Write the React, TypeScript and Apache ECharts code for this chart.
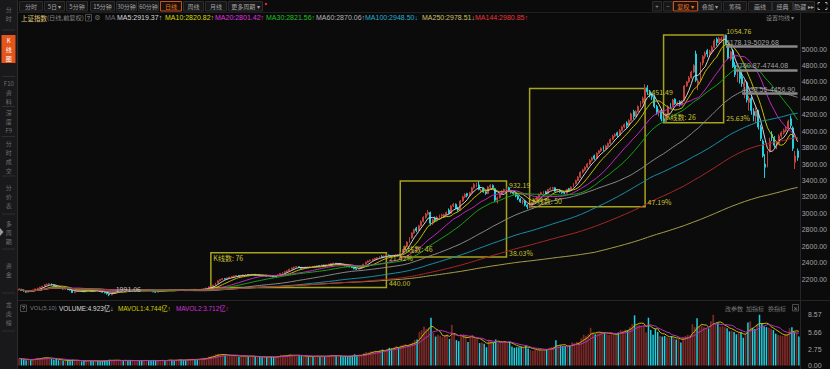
import React, { useEffect, useRef } from 'react';
import * as echarts from 'echarts';

// ---------- DATA ----------
// daily candles of 上证指数 [open, close, low, high]
const ohlc: number[][] = [
  [2068,2075,2060,2082],[2075,2060,2055,2080],[2060,2053,2046,2064],[2053,2040,2034,2056],[2040,2058,2036,2062],[2058,2047,2042,2061],[2047,2066,2045,2070],[2066,2080,2062,2084],[2080,2088,2074,2093],[2088,2100,2084,2106],
  [2100,2112,2096,2118],[2112,2130,2108,2136],[2130,2135,2124,2146],[2135,2142,2128,2150],[2142,2128,2122,2146],[2128,2118,2112,2132],[2118,2098,2092,2120],[2098,2086,2080,2102],[2086,2091,2080,2096],[2091,2078,2072,2094],
  [2078,2082,2072,2088],[2082,2070,2066,2086],[2070,2066,2060,2074],[2066,2035,2030,2068],[2035,2048,2030,2052],[2048,2053,2042,2058],[2053,2060,2048,2064],[2060,2052,2047,2063],[2052,2045,2040,2056],[2045,2058,2042,2061],
  [2058,2064,2053,2068],[2064,2055,2050,2066],[2055,2050,2045,2058],[2050,2062,2048,2065],[2062,2058,2053,2066],[2058,2047,2043,2060],[2047,2040,2034,2050],[2040,2032,2026,2044],[2032,2020,2012,2035],[2020,2008,1991,2024],
  [2008,2026,2002,2030],[2026,2040,2022,2044],[2040,2052,2036,2056],[2052,2058,2047,2062],[2058,2065,2053,2069],[2065,2060,2055,2068],[2060,2070,2056,2074],[2070,2067,2061,2075],[2067,2055,2050,2070],[2055,2062,2051,2066],
  [2062,2068,2058,2072],[2068,2072,2063,2076],[2072,2066,2061,2075],[2066,2060,2055,2069],[2060,2064,2056,2068],[2064,2070,2060,2074],[2070,2066,2061,2073],[2066,2058,2053,2069],[2058,2045,2040,2060],[2045,2040,2034,2049],
  [2040,2050,2036,2054],[2050,2056,2046,2060],[2056,2062,2052,2066],[2062,2058,2053,2065],[2058,2066,2055,2070],[2066,2070,2061,2074],[2070,2064,2060,2073],[2064,2060,2055,2067],[2060,2068,2057,2071],[2068,2072,2064,2076],
  [2072,2066,2061,2075],[2066,2062,2057,2069],[2062,2058,2053,2065],[2058,2064,2055,2068],[2064,2070,2060,2074],[2070,2075,2066,2079],[2075,2068,2064,2078],[2068,2062,2058,2071],[2062,2072,2059,2075],[2072,2078,2068,2082],
  [2078,2084,2074,2088],[2084,2090,2080,2094],[2090,2105,2087,2109],[2105,2110,2100,2116],[2110,2125,2106,2129],[2125,2150,2122,2154],[2150,2178,2146,2182],[2178,2195,2172,2200],[2195,2205,2188,2211],[2205,2200,2194,2212],
  [2200,2212,2196,2217],[2212,2222,2207,2228],[2222,2230,2216,2236],[2230,2238,2224,2244],[2238,2242,2232,2249],[2242,2235,2229,2247],[2235,2245,2231,2250],[2245,2250,2240,2256],[2250,2255,2244,2261],[2255,2248,2243,2259],
  [2248,2252,2242,2257],[2252,2258,2247,2263],[2258,2246,2241,2261],[2246,2250,2240,2255],[2250,2242,2236,2254],[2242,2238,2232,2246],[2238,2245,2234,2250],[2245,2232,2227,2248],[2232,2240,2228,2244],[2240,2236,2230,2244],
  [2236,2228,2222,2240],[2228,2240,2225,2244],[2240,2252,2237,2256],[2252,2268,2248,2272],[2268,2280,2263,2285],[2280,2290,2275,2295],[2290,2300,2284,2306],[2300,2320,2296,2325],[2320,2335,2315,2340],[2335,2345,2328,2350],
  [2345,2350,2338,2357],[2350,2342,2336,2355],[2342,2330,2324,2346],[2330,2338,2325,2343],[2338,2345,2332,2350],[2345,2340,2334,2349],[2340,2352,2336,2357],[2352,2348,2342,2356],[2348,2356,2344,2361],[2356,2362,2350,2367],
  [2362,2358,2352,2366],[2358,2370,2354,2375],[2370,2366,2360,2374],[2366,2374,2361,2379],[2374,2380,2368,2386],[2380,2388,2374,2394],[2388,2392,2382,2399],[2392,2385,2378,2396],[2385,2390,2379,2395],[2390,2378,2372,2393],
  [2378,2372,2366,2382],[2372,2360,2354,2375],[2360,2355,2348,2364],[2355,2348,2342,2359],[2348,2340,2333,2352],[2340,2325,2318,2344],[2325,2320,2310,2330],[2320,2330,2315,2335],[2330,2345,2326,2350],[2345,2380,2342,2385],
  [2380,2405,2376,2410],[2405,2420,2398,2427],[2420,2430,2412,2437],[2430,2440,2422,2447],[2440,2452,2433,2458],[2452,2460,2444,2467],[2460,2472,2452,2478],[2472,2468,2460,2490],[2468,2480,2462,2486],[2480,2490,2473,2496],
  [2490,2485,2476,2498],[2485,2478,2470,2492],[2478,2490,2472,2496],[2490,2495,2482,2503],[2495,2486,2478,2500],[2486,2520,2480,2526],[2520,2560,2514,2566],[2560,2600,2552,2608],[2600,2650,2594,2658],[2650,2700,2640,2710],
  [2700,2760,2692,2768],[2760,2800,2750,2812],[2820,2790,2770,2835],[2790,2850,2784,2860],[2850,2900,2840,2915],[2900,2950,2890,2965],[2950,2990,2935,3005],[2990,3010,2975,3040],[3010,2880,2850,3020],[2880,2920,2860,2935],
  [2940,2910,2890,2960],[2910,2950,2900,2965],[2950,2970,2935,2985],[2970,2980,2955,2995],[2960,2985,2950,2995],[2985,3010,2972,3022],[3040,3000,2990,3060],[3000,3090,2995,3100],[3090,3110,3075,3125],[3110,3060,3050,3120],
  [3060,3040,3020,3080],[3040,3150,3035,3160],[3150,3200,3140,3215],[3200,3230,3185,3245],[3240,3215,3195,3250],[3215,3250,3205,3262],[3250,3310,3240,3322],[3310,3350,3298,3368],[3330,3345,3318,3372],[3345,3290,3280,3392],
  [3270,3280,3245,3300],[3300,3262,3250,3315],[3262,3240,3225,3275],[3240,3320,3235,3330],[3320,3340,3305,3355],[3340,3310,3295,3352],[3300,3160,3140,3310],[3160,3190,3120,3205],[3190,3240,3180,3250],[3240,3270,3225,3282],
  [3270,3290,3255,3300],[3290,3310,3278,3322],[3310,3270,3258,3325],[3270,3255,3240,3285],[3255,3240,3226,3268],[3240,3210,3195,3252],[3210,3175,3160,3222],[3175,3140,3128,3186],[3140,3150,3110,3165],[3150,3100,3085,3160],
  [3100,3080,3049,3112],[3080,3095,3060,3105],[3095,3130,3088,3140],[3130,3160,3122,3170],[3160,3200,3150,3210],[3200,3230,3192,3240],[3230,3250,3220,3262],[3250,3255,3238,3268],[3262,3240,3230,3275],[3240,3290,3235,3298],
  [3290,3305,3280,3318],[3305,3310,3290,3322],[3310,3270,3262,3318],[3270,3275,3255,3285],[3280,3262,3250,3290],[3262,3250,3238,3270],[3255,3245,3232,3262],[3245,3290,3240,3298],[3300,3285,3270,3310],[3285,3320,3280,3328],
  [3320,3360,3315,3370],[3360,3400,3352,3410],[3400,3440,3392,3452],[3440,3500,3432,3510],[3500,3530,3488,3542],[3530,3560,3518,3572],[3560,3600,3548,3612],[3600,3645,3590,3660],[3645,3675,3630,3688],[3700,3670,3650,3715],
  [3670,3730,3662,3742],[3730,3760,3718,3772],[3760,3790,3748,3802],[3810,3780,3760,3825],[3780,3820,3770,3835],[3820,3850,3808,3862],[3850,3900,3840,3912],[3900,3940,3890,3955],[3940,3960,3925,3975],[3980,3950,3930,3995],
  [3950,4010,3945,4025],[4010,4050,4000,4065],[4050,4080,4035,4095],[4100,4070,4040,4120],[4070,4130,4060,4145],[4130,4210,4120,4225],[4240,4180,4150,4260],[4180,4240,4170,4255],[4240,4300,4230,4315],[4300,4350,4290,4365],
  [4350,4400,4335,4420],[4400,4520,4390,4572],[4530,4480,4440,4560],[4480,4440,4410,4500],[4450,4420,4380,4470],[4420,4300,4280,4440],[4300,4230,4200,4320],[4230,4250,4180,4270],[4250,4150,4120,4270],[4150,4112,4099,4180],
  [4112,4210,4105,4220],[4210,4300,4200,4315],[4330,4310,4280,4340],[4310,4380,4300,4395],[4390,4335,4320,4400],[4335,4345,4310,4360],[4360,4320,4300,4375],[4320,4370,4315,4380],[4370,4550,4365,4560],[4550,4600,4540,4612],
  [4600,4650,4590,4670],[4650,4720,4640,4735],[4720,4800,4710,4815],[4940,4620,4600,4980],[4580,4611,4500,4640],[4611,4830,4600,4840],[4830,4910,4800,4925],[4910,4950,4880,4970],[4980,4940,4900,5000],[4930,4970,4910,4990],
  [4970,5020,4950,5040],[5020,5100,5010,5120],[5120,5080,5040,5140],[5080,5130,5070,5150],[5105,5125,5080,5150],[5125,5166,5110,5178],[5170,5062,5048,5176],[5050,4887,4870,5060],[4880,4967,4860,4980],[4980,4785,4770,5000],
  [4800,4690,4660,4840],[4650,4720,4600,4760],[4720,4640,4580,4740],[4660,4580,4540,4700],[4540,4590,4400,4620],[4590,4380,4350,4610],[4350,4400,4250,4430],[4400,4250,4200,4420],[4240,4190,4120,4280],[4180,4250,4100,4290],
  [4250,4050,4020,4260],[4050,3910,3880,4080],[3880,3700,3680,3900],[3600,3560,3430,3720],[3600,3720,3560,3760],[3760,3880,3740,3920],[3960,3920,3880,4000],[3920,3830,3800,3940],[3830,3850,3780,3870],[3850,3940,3840,3960],
  [3940,3980,3920,4000],[3980,4010,3960,4030],[4010,4030,3990,4060],[4030,4120,4020,4140],[4150,4070,4040,4190],[4040,3790,3760,4060],[3620,3700,3540,3760],[3760,3680,3640,3790],
];

// volume, 亿
const volumes: number[] = [
  1.2,1.1,1.0,0.9,1.0,0.9,1.1,1.2,1.3,1.2,
  1.3,1.4,1.3,1.2,1.1,1.0,1.1,0.9,0.9,0.8,
  0.8,0.9,0.8,1.0,0.9,0.8,0.8,0.7,0.8,0.8,
  0.9,0.8,0.7,0.8,0.8,0.7,0.8,0.8,0.9,1.0,
  0.9,0.8,0.9,0.9,0.8,0.8,0.9,0.8,0.9,0.8,
  0.8,0.9,0.8,0.8,0.9,0.9,0.8,0.8,0.9,0.8,
  0.8,0.9,0.9,0.8,0.9,1.0,0.9,0.8,0.9,1.0,
  1.0,0.9,0.9,1.0,1.1,1.1,1.0,1.0,1.1,1.2,
  1.3,1.3,1.5,1.6,1.7,1.9,2.0,1.9,1.8,1.6,
  1.7,1.8,1.6,1.7,1.6,1.5,1.6,1.7,1.6,1.5,
  1.5,1.6,1.5,1.4,1.5,1.4,1.5,1.4,1.4,1.5,
  1.4,1.5,1.6,1.8,1.7,1.6,1.7,1.9,1.8,1.7,
  1.6,1.7,1.6,1.5,1.6,1.5,1.6,1.5,1.6,1.7,
  1.5,1.6,1.5,1.6,1.7,1.8,1.7,1.6,1.5,1.6,
  1.5,1.6,1.5,1.6,1.7,1.9,1.8,1.6,1.7,2.1,
  2.3,2.2,2.4,2.3,2.5,2.4,2.6,2.7,2.5,2.8,
  3.0,2.9,3.1,3.3,3.0,3.4,3.5,3.6,3.4,3.7,
  3.9,4.3,4.4,5.7,6.0,6.6,6.2,6.4,8.1,5.5,
  4.9,5.2,5.0,4.8,5.1,5.3,4.5,6.9,5.4,4.3,
  4.1,5.2,5.3,5.0,4.0,4.9,5.1,4.6,4.5,3.8,
  3.9,3.7,3.1,4.4,4.2,3.9,4.4,3.8,4.0,3.9,
  4.1,3.8,4.0,3.2,3.0,3.1,3.1,3.2,3.0,3.4,
  2.9,2.6,2.5,2.7,2.6,2.8,2.5,2.6,2.8,3.0,
  3.1,3.2,4.3,3.3,3.4,3.3,3.3,3.2,3.3,3.9,
  3.8,4.0,3.9,4.6,5.2,5.0,5.3,6.4,5.5,5.3,
  5.6,5.5,5.7,5.6,5.3,5.2,5.4,5.3,5.2,5.6,
  6.0,5.9,6.1,6.0,6.5,7.0,8.5,6.8,6.9,6.7,
  6.8,5.6,8.1,6.0,5.2,6.2,5.7,5.0,4.9,5.0,
  4.8,4.7,5.0,4.6,4.4,4.5,3.9,4.8,5.0,5.2,
  5.1,7.0,6.5,8.0,6.6,6.8,6.5,6.4,6.3,7.5,
  8.6,7.0,7.2,6.6,6.7,6.5,6.3,5.8,5.9,5.7,
  5.3,5.5,5.6,4.7,5.4,7.3,7.5,6.4,6.2,7.0,
  8.6,7.2,6.6,6.5,6.4,6.2,6.0,5.4,5.2,5.1,
  5.0,5.2,5.3,6.3,6.5,5.7,5.6,4.9,
];

const maPeriods = [5, 10, 20, 30, 60, 100, 250, 144];
const maColors = ['#d2d2d2', '#c2be00', '#c428c4', '#18a418', '#8a8a8a', '#1a90aa', '#aaa04a', '#aa2828'];
const volMaPeriods = [5, 10];
const volMaColors = ['#c2be00', '#bc30bc'];

const priceTicks = [2200, 2400, 2600, 2800, 3000, 3200, 3400, 3600, 3800, 4000, 4200, 4400, 4600, 4800, 5000];
const volTicks = [0, 2.75, 5.66, 8.57];

// boxes drawn with the line tool: [fromIndex, toIndex, low, high]
const boxRanges = [
  [83, 159, 2097, 2519],
  [165, 211, 2467, 3392],
  [221, 271, 3079, 4521],
  [279, 305, 4102, 5171],
];
const boxCounts = ['K线数: 76', 'K线数: 46', 'K线数: 50', 'K线数: 26'];
const boxTopLabels = ['21.42%', '932.19', '1451.49', '1054.76'];
const boxBottomLabels = ['440.00', '38.03%', '47.19%', '25.63%'];

// horizontal lines: [fromIndex, value, label]
const hLines: [number, number, string][] = [
  [306, 5029.68, '5178.19-5029.68'],
  [310, 4744.08, '4760.87-4744.08'],
  [313, 4456.90, '4533.55-4456.90'],
];
const lowPoint: [number, number, string] = [39, 1991, '1991.06'];

const maHeader: [string, string][] = [
  ['MA5:2919.37↑', '#d8d8d8'],
  ['MA10:2820.82↑', '#dcdc00'],
  ['MA20:2801.42↑', '#e030e0'],
  ['MA30:2821.56↑', '#20c020'],
  ['MA60:2870.06↑', '#b4b4b4'],
  ['MA100:2948.50↓', '#22b0d0'],
  ['MA250:2978.51↓', '#cfc266'],
  ['MA144:2980.85↑', '#ee3434'],
];
const maHeaderX = [117, 165, 215, 266, 316, 365, 422, 475];

const volHeader: [string, string][] = [
  ['VOLUME:4.923亿↓', '#d8d8d8'],
  ['MAVOL1:4.744亿↑', '#d4d000'],
  ['MAVOL2:3.712亿↑', '#d034d0'],
];
const volHeaderX = [59, 118, 176];

const leftButtons: [string, number, number][] = [
  ['分时', 19, 43], ['5日 ▾', 44, 65], ['5分钟', 66, 88], ['15分钟', 90, 115], ['30分钟', 116, 137],
  ['60分钟', 138, 159], ['日线', 160, 182], ['周线', 183, 204], ['月线', 205, 227], ['更多周期 ▾', 228, 263],
];
const rightButtons: [string, number, number][] = [
  ['+', 652, 662], ['−', 663, 673], ['复权 ▾', 673, 698], ['叠加 ▾', 698, 722], ['筹码', 723, 747],
  ['画线', 748, 772], ['经典', 772, 793], ['隐藏 ▸▸', 793, 815],
];
const sideTabs: [string, number][] = [
  ['分\n时', 14], ['K\n线\n图', 49], ['F10\n资\n料', 92], ['深\n度\nF9', 121], ['分\n时\n成\n交', 157],
  ['分\n价\n表', 196], ['多\n周\n期', 232], ['资\n金', 270], ['龙\n虎\n榜', 313],
];
const sideSeps = [30, 76.5, 106.5, 136.5, 176, 214, 249, 293, 331];

// ---------- HELPERS ----------
const LAT = "'Liberation Sans', 'DejaVu Sans', 'Noto Sans CJK SC', sans-serif";
const CJK = "'Noto Sans CJK SC', 'Liberation Sans', sans-serif";

function movingAverage(values: number[], n: number) {
  return values.map((_, i) => {
    const s = Math.max(0, i - n + 1);
    let sum = 0;
    for (let k = s; k <= i; k++) sum += values[k];
    return +(sum / (i - s + 1)).toFixed(2);
  });
}

function text(x: number, y: number, t: string, fill: string, size = 7, family = LAT, align = 'left') {
  return {
    type: 'text', x, y, silent: true,
    style: { text: t, fill, fontSize: size, fontFamily: family, textAlign: align, textVerticalAlign: 'middle', align, verticalAlign: 'middle' },
  };
}

function button(label: string, x0: number, x1: number, active: boolean) {
  return {
    type: 'group',
    children: [
      { type: 'rect', shape: { x: x0 + 0.5, y: 1.5, width: x1 - x0 - 1, height: 9.5 }, style: { fill: active ? '#1c120c' : '#171718', stroke: active ? '#c9531c' : '#2c2c2e', lineWidth: 1 } },
      text((x0 + x1) / 2, 6.5, label, active ? '#f07428' : '#a4a4a4', 6, CJK, 'center'),
    ],
  };
}

export default function App() {
  const ref = useRef<HTMLDivElement>(null);
  useEffect(() => {
    document.body.style.margin = '0';
    document.body.style.background = '#0b0b0c';
    const chart = echarts.init(ref.current!, undefined, { renderer: 'svg' });

    const cats = ohlc.map((_, i) => String(i));
    const closes = ohlc.map((d) => d[1]);
    const candleData = ohlc.map((d) => [d[0], d[1], d[2], d[3]]);
    const volData = volumes.map((v, i) => {
      const up = ohlc[i][1] >= ohlc[i][0];
      return { value: v, itemStyle: up ? { color: '#4e1e1e', borderColor: '#a23632', borderWidth: 0.6 } : { color: '#22d0e0', borderColor: '#22d0e0', borderWidth: 0 } };
    });

    const boxColor = '#a8a31c';
    const labelColor = '#c6c030';
    // label offsets (px) relative to the box corners
    const countPos = [[3, 6], [3, -8], [3, -5], [3, -5]];
    const topPos = [[3, 6], [3, 4], [3, 4], [3, -3]];
    const bottomPos = [[3, -4], [3, -4], [3, -4], [3, -4]];
    const markPoints: any[] = [];
    boxRanges.forEach((b, k) => {
      const [from, to, low, high] = b;
      markPoints.push({
        coord: [String(from), k === 0 ? high : low],
        label: { formatter: boxCounts[k], position: countPos[k] },
      });
      markPoints.push({ coord: [String(to), high], label: { formatter: boxTopLabels[k], position: topPos[k] } });
      markPoints.push({ coord: [String(to), low], label: { formatter: boxBottomLabels[k], position: bottomPos[k] } });
    });
    markPoints.push({
      coord: [String(lowPoint[0]), lowPoint[1]],
      label: { formatter: lowPoint[2], position: [7, -7], color: '#c4c4c4' },
    });

    const lastIdx = String(ohlc.length - 1);

    const series: any[] = [
      {
        type: 'candlestick', name: 'K', xAxisIndex: 0, yAxisIndex: 0, data: candleData, barWidth: '62%', z: 2,
        itemStyle: { color: '#260c0c', color0: '#22d0e0', borderColor: '#c2423c', borderColor0: '#22d0e0', borderWidth: 1 },
        markArea: {
          silent: true,
          itemStyle: { color: 'rgba(0,0,0,0)', borderColor: boxColor, borderWidth: 1.5 },
          label: { show: false },
          data: boxRanges.map((b) => [{ xAxis: String(b[0]), yAxis: b[2] }, { xAxis: String(b[1]), yAxis: b[3] }]),
        },
        markPoint: {
          silent: true, symbol: 'circle', symbolSize: 1,
          itemStyle: { color: 'rgba(0,0,0,0)' },
          label: { show: true, color: labelColor, fontSize: 7, fontFamily: CJK, align: 'left', verticalAlign: 'middle' },
          data: markPoints,
        },
        markLine: {
          silent: true, symbol: ['none', 'none'],
          lineStyle: { color: '#888888', width: 2.5, type: 'solid' },
          label: { show: true, position: 'insideStartTop', color: '#a2a2a2', fontSize: 7, fontFamily: LAT, distance: [0, 1] },
          data: hLines.map((h) => [
            { coord: [String(h[0]), h[1]], label: { formatter: h[2] } },
            { coord: [lastIdx, h[1]] },
          ]),
        },
      },
      ...maPeriods.map((p, k) => ({
        type: 'line', name: 'MA' + p, xAxisIndex: 0, yAxisIndex: 0, data: movingAverage(closes, p),
        showSymbol: false, symbol: 'none', z: 3, lineStyle: { width: 1, color: maColors[k] }, silent: true,
      })),
      {
        type: 'bar', name: 'VOL', xAxisIndex: 1, yAxisIndex: 1, data: volData, barWidth: '64%',
      },
      ...volMaPeriods.map((p, k) => ({
        type: 'line', name: 'MAVOL' + (k + 1), xAxisIndex: 1, yAxisIndex: 1, data: movingAverage(volumes, p),
        showSymbol: false, symbol: 'none', z: 3, lineStyle: { width: 1, color: volMaColors[k] }, silent: true,
      })),
    ];

    const graphic: any[] = [
      // sidebar
      { type: 'rect', shape: { x: 0, y: 0, width: 17, height: 369 }, style: { fill: '#19191b' }, silent: true },
      { type: 'line', shape: { x1: 17.5, y1: 0, x2: 17.5, y2: 369 }, style: { stroke: '#2c2c2e', lineWidth: 1 }, silent: true },
      { type: 'rect', shape: { x: 1.5, y: 35, width: 14, height: 28 }, style: { fill: '#e4551c' }, silent: true },
      ...sideSeps.map((y) => ({ type: 'line', shape: { x1: 2, y1: y, x2: 15, y2: y }, style: { stroke: '#2e2e31', lineWidth: 1 }, silent: true })),
      ...sideTabs.map(([t, y], k) => ({
        type: 'text', x: 8.8, y, silent: true,
        style: { text: t, fill: k === 1 ? '#ffffff' : '#6e6e72', fontSize: 6, fontFamily: CJK, lineHeight: 9, textAlign: 'center', textVerticalAlign: 'middle', align: 'center', verticalAlign: 'middle' },
      })),
      { type: 'polygon', shape: { points: [[0, 228], [3.5, 232], [0, 236]] }, style: { fill: '#9a9a9a' }, silent: true },
      // toolbar row
      ...leftButtons.map(([l, a, b]) => button(l, a, b, l === '日线')),
      { type: 'circle', shape: { cx: 266, cy: 4, r: 1.2 }, style: { fill: '#ff2a2a' }, silent: true },
      ...rightButtons.map(([l, a, b]) => button(l, a, b, l.startsWith('复权'))),
      { type: 'polyline', shape: { points: [[818, 4.5], [818, 2.5], [820, 2.5]] }, style: { stroke: '#a4a4a4', lineWidth: 1, fill: 'none' }, silent: true },
      { type: 'polyline', shape: { points: [[825, 2.5], [827, 2.5], [827, 4.5]] }, style: { stroke: '#a4a4a4', lineWidth: 1, fill: 'none' }, silent: true },
      { type: 'polyline', shape: { points: [[818, 7.5], [818, 9.5], [820, 9.5]] }, style: { stroke: '#a4a4a4', lineWidth: 1, fill: 'none' }, silent: true },
      { type: 'polyline', shape: { points: [[825, 9.5], [827, 9.5], [827, 7.5]] }, style: { stroke: '#a4a4a4', lineWidth: 1, fill: 'none' }, silent: true },
      { type: 'line', shape: { x1: 18, y1: 12.5, x2: 830, y2: 12.5 }, style: { stroke: '#202022', lineWidth: 1 }, silent: true },
      // header row 2
      text(21, 17.5, '上证指数', '#e2cb78', 6.5, CJK),
      text(47, 17.5, '(日线,前复权)', '#858585', 6.2, CJK),
      { type: 'rect', shape: { x: 85.5, y: 14.5, width: 6, height: 6.5 }, style: { fill: 'none', stroke: '#5a5a5a', lineWidth: 0.8 }, silent: true },
      text(88.5, 17.8, '?', '#9a9a9a', 6, LAT, 'center'),
      text(97.5, 17.5, '⚙', '#707070', 7, "'DejaVu Sans', sans-serif", 'center'),
      text(105, 17.5, 'MA', '#6e6e6e', 7),
      ...maHeader.map(([t, c], k) => text(maHeaderX[k], 17.5, t, c, 7)),
      text(766, 17.5, '设置均线 ▾', '#858585', 6, CJK),
      // dividers
      { type: 'line', shape: { x1: 18, y1: 300.5, x2: 830, y2: 300.5 }, style: { stroke: '#262628', lineWidth: 1 }, silent: true },
      { type: 'line', shape: { x1: 800.5, y1: 13, x2: 800.5, y2: 369 }, style: { stroke: '#262628', lineWidth: 1 }, silent: true },
      // volume header
      { type: 'rect', shape: { x: 20.5, y: 305, width: 6, height: 6.5 }, style: { fill: 'none', stroke: '#5a5a5a', lineWidth: 0.8 }, silent: true },
      text(23.5, 308.3, '?', '#9a9a9a', 6, LAT, 'center'),
      text(30, 308, 'VOL(5,10)', '#7c7c7c', 5.8),
      ...volHeader.map(([t, c], k) => text(volHeaderX[k], 308, t, c, 6.4, LAT)),
      text(725, 308, '改参数', '#787878', 6, CJK),
      text(746, 308, '加指标', '#787878', 6, CJK),
      text(768, 308, '换指标', '#787878', 6, CJK),
      { type: 'rect', shape: { x: 792.5, y: 304.5, width: 6, height: 6.5 }, style: { fill: 'none', stroke: '#5a5a5a', lineWidth: 0.8 }, silent: true },
      text(795.5, 308, '×', '#8a8a8a', 7, LAT, 'center'),
    ];

    const option: any = {
      animation: false,
      backgroundColor: '#0b0b0c',
      grid: [
        { left: 18, top: 28, width: 782, height: 268.7 },
        { left: 18, top: 312, width: 782, height: 54.5 },
      ],
      xAxis: [
        { type: 'category', gridIndex: 0, data: cats, boundaryGap: true, show: false },
        { type: 'category', gridIndex: 1, data: cats, boundaryGap: true, show: false },
      ],
      yAxis: [
        {
          type: 'value', gridIndex: 0, position: 'right', min: 1985, max: 5256, scale: true,
          axisLine: { show: false }, axisTick: { show: false }, splitLine: { show: false },
          axisLabel: { customValues: priceTicks, formatter: (v: number) => v.toFixed(2), color: '#a2a2a2', fontSize: 7, fontFamily: LAT, margin: 3, showMinLabel: true, showMaxLabel: true },
        },
        {
          type: 'value', gridIndex: 1, position: 'right', min: 0, max: 9.07,
          axisLine: { show: false }, axisTick: { show: false }, splitLine: { show: false },
          axisLabel: { customValues: volTicks, formatter: (v: number) => v.toFixed(2), color: '#a2a2a2', fontSize: 7, fontFamily: LAT, margin: 8 },
        },
      ],
      series,
      graphic,
    };
    chart.setOption(option);
    return () => chart.dispose();
  }, []);
  return <div ref={ref} style={{ width: 830, height: 369 }} />;
}
